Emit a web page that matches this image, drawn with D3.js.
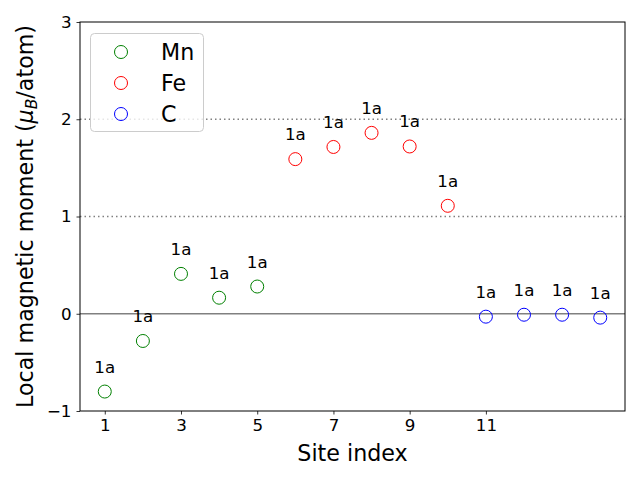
<!DOCTYPE html>
<html><head><meta charset="utf-8">
<script src="https://cdn.jsdelivr.net/npm/d3@7"></script>
<style>body{margin:0;background:#fff}svg{display:block;font-family:"DejaVu Sans",sans-serif}</style>
</head><body>
<script>
const sites = [1,2,3,4,5,6,7,8,9,10,11,12,13,14];
const elements = ["Mn","Mn","Mn","Mn","Mn","Fe","Fe","Fe","Fe","Fe","C","C","C","C"];
const moments = [-0.80,-0.28,0.41,0.165,0.28,1.59,1.715,1.86,1.72,1.11,-0.03,-0.01,-0.01,-0.04];
const wyckoff = ["1a","1a","1a","1a","1a","1a","1a","1a","1a","1a","1a","1a","1a","1a"];
const legendNames = ["Mn","Fe","C"];
const legendColors = ["green","red","blue"];
const xTicks = [1,3,5,7,9,11];
const yTicks = [-1,0,1,2,3];
const refLines = [1,2];

const W=640,H=480;
const m={l:80,r:15,t:22,b:69};
const svg=d3.select("body").append("svg").attr("width",W).attr("height",H);
const x=d3.scaleLinear().domain([0.35,14.65]).range([m.l,W-m.r]);
const y=d3.scaleLinear().domain([-1,3]).range([H-m.b,m.t]);
const color=d3.scaleOrdinal().domain(legendNames).range(legendColors);

// reference lines
svg.selectAll(".ref").data(refLines).enter().append("line")
  .attr("x1",m.l).attr("x2",W-m.r).attr("y1",d=>y(d)).attr("y2",d=>y(d))
  .attr("stroke","#808080").attr("stroke-width",1.5).attr("stroke-dasharray","1.5,3");
svg.append("line").attr("x1",m.l).attr("x2",W-m.r).attr("y1",y(0)).attr("y2",y(0))
  .attr("stroke","#808080").attr("stroke-width",1.5);

// axes
const gx=svg.append("g").attr("transform",`translate(0,${H-m.b})`)
  .call(d3.axisBottom(x).tickValues(xTicks).tickFormat(d3.format("d")).tickSizeOuter(0).tickSize(3.5).tickPadding(5));
const gy=svg.append("g").attr("transform",`translate(${m.l},0)`)
  .call(d3.axisLeft(y).tickValues(yTicks).tickFormat(d=>d<0?"\u2212"+Math.abs(d):d).tickSizeOuter(0).tickSize(3.5).tickPadding(5));
[gx,gy].forEach(g=>{g.selectAll("text").attr("font-size",16.7).attr("fill","#000").attr("font-family","DejaVu Sans");
  g.selectAll("line").attr("stroke","#000").attr("stroke-width",0.8);g.select(".domain").remove();});
svg.append("rect").attr("x",m.l).attr("y",m.t).attr("width",W-m.r-m.l).attr("height",H-m.b-m.t)
  .attr("fill","none").attr("stroke","#000").attr("stroke-width",1);

// points
svg.selectAll(".pt").data(sites).enter().append("circle")
  .attr("cx",(d)=>x(d)).attr("cy",(d,i)=>y(moments[i])).attr("r",6.5)
  .attr("fill","none").attr("stroke",(d,i)=>color(elements[i])).attr("stroke-width",1);
svg.selectAll(".lab").data(sites).enter().append("text")
  .attr("x",d=>x(d)).attr("y",(d,i)=>y(moments[i])-19)
  .attr("text-anchor","middle").attr("font-size",16.7).text((d,i)=>wyckoff[i]);

// axis labels
svg.append("text").attr("x",(m.l+W-m.r)/2).attr("y",461).attr("text-anchor","middle")
  .attr("font-size",22.2).text("Site index");
const yl=svg.append("text").attr("transform",`translate(33,${(m.t+H-m.b)/2}) rotate(-90)`)
  .attr("text-anchor","middle").attr("font-size",22.2);
yl.append("tspan").text("Local magnetic moment (");
yl.append("tspan").attr("font-style","italic").text("\u03bc");
yl.append("tspan").attr("font-style","italic").attr("font-size",15.5).attr("dy",4).text("B");
yl.append("tspan").attr("dy",-4).text("/atom)");

// legend
const lg=svg.append("g");
lg.append("rect").attr("x",90.5).attr("y",33.5).attr("width",113).attr("height",98).attr("rx",4)
  .attr("fill","#fff").attr("fill-opacity",0.8).attr("stroke","#ccc").attr("stroke-width",1);
legendNames.forEach((n,i)=>{
  const yy=52+i*31;
  lg.append("circle").attr("cx",121).attr("cy",yy).attr("r",6.5).attr("fill","none").attr("stroke",legendColors[i]).attr("stroke-width",1);
  lg.append("text").attr("x",161).attr("y",yy+8).attr("font-size",22.2).text(n);
});
</script>
</body></html>
